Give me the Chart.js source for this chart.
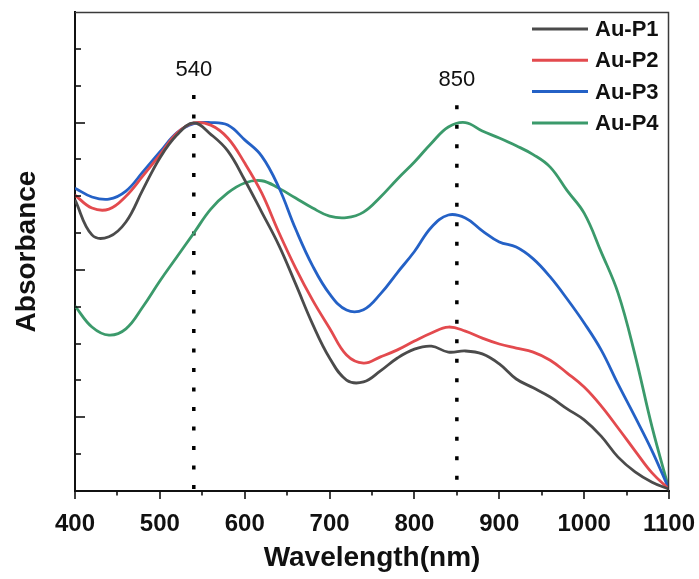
<!DOCTYPE html>
<html>
<head>
<meta charset="utf-8">
<script src="https://cdn.jsdelivr.net/npm/chart.js@4.4.1/dist/chart.umd.min.js"></script>
<style>
  html, body { margin: 0; padding: 0; background: #ffffff; }
  #wrap { width: 699px; height: 579px; }
</style>
</head>
<body>
<div id="wrap"><canvas id="c"></canvas></div>
<script>
// Normalized UV-Vis-NIR absorbance spectra, sampled every 20 nm
const wavelengths = [400, 420, 440, 460, 480, 500, 520, 540, 560, 580,
                     600, 620, 640, 660, 680, 700, 720, 740, 760, 780,
                     800, 820, 840, 860, 880, 900, 920, 940, 960, 980,
                     1000, 1020, 1040, 1060, 1080, 1100];

const auP1 = [0.790, 0.695, 0.690, 0.730, 0.818, 0.904, 0.966, 0.999, 0.968, 0.923,
              0.844, 0.757, 0.668, 0.562, 0.453, 0.361, 0.301, 0.296, 0.326, 0.361,
              0.385, 0.393, 0.377, 0.380, 0.372, 0.345, 0.304, 0.280, 0.255, 0.223,
              0.193, 0.149, 0.092, 0.052, 0.024, 0.005];

const auP2 = [0.803, 0.768, 0.765, 0.800, 0.855, 0.912, 0.971, 0.999, 0.993, 0.958,
              0.890, 0.809, 0.703, 0.605, 0.518, 0.442, 0.369, 0.347, 0.364, 0.383,
              0.407, 0.429, 0.445, 0.434, 0.415, 0.399, 0.388, 0.377, 0.355, 0.320,
              0.282, 0.231, 0.171, 0.109, 0.049, 0.005];

const auP3 = [0.822, 0.798, 0.792, 0.814, 0.866, 0.920, 0.972, 0.997, 1.000, 0.993,
              0.953, 0.909, 0.825, 0.711, 0.611, 0.535, 0.491, 0.492, 0.535, 0.593,
              0.650, 0.716, 0.749, 0.741, 0.706, 0.676, 0.662, 0.630, 0.581, 0.521,
              0.456, 0.383, 0.290, 0.201, 0.109, 0.005];

const auP4 = [0.502, 0.445, 0.423, 0.440, 0.500, 0.570, 0.635, 0.700, 0.765, 0.809,
              0.836, 0.842, 0.822, 0.795, 0.768, 0.746, 0.742, 0.757, 0.798, 0.847,
              0.893, 0.944, 0.988, 1.000, 0.977, 0.958, 0.937, 0.913, 0.879, 0.815,
              0.754, 0.649, 0.537, 0.369, 0.174, 0.005];

const seriesNames = ['Au-P1', 'Au-P2', 'Au-P3', 'Au-P4'];
const seriesValues = [auP1, auP2, auP3, auP4];
const seriesColors = ['#4b4b4b', '#e34a4e', '#2461c6', '#3b9a6b'];

// Dotted markers at the plasmon band maxima
const peakWavelengths = [540, 850];
const peakLabels = ['540', '850'];
const peakLineTops = [1.075, 1.047];

// Axis tick values
const xMajorTicks = [400, 500, 600, 700, 800, 900, 1000, 1100];
const xMinorTicks = [450, 550, 650, 750, 850, 950, 1050];
const yMajorTicks = [0.2, 0.6, 1.0];
const yMinorTicks = [0.1, 0.3, 0.4, 0.5, 0.7, 0.8, 0.9, 1.1, 1.2];

const FONT = '"Liberation Sans", Arial, Helvetica, sans-serif';

const spectra = seriesNames.map((name, i) => ({
  label: name,
  data: wavelengths.map((w, k) => ({ x: w, y: seriesValues[i][k] })),
  borderColor: seriesColors[i],
  backgroundColor: seriesColors[i],
  borderWidth: 2.8,
  pointRadius: 0,
  tension: 0.4,
  fill: false,
  isSpectrum: true
}));

const markers = peakWavelengths.map((w, i) => ({
  label: peakLabels[i],
  data: [{ x: w, y: peakLineTops[i] }, { x: w, y: 0 }],
  borderColor: '#000000',
  borderWidth: 3.5,
  borderDash: [4, 15.5],
  borderCapStyle: 'butt',
  pointRadius: 0,
  tension: 0,
  fill: false,
  isSpectrum: false
}));

// Frame, inward/outward tick marks, peak labels and the in-plot legend
const decorations = {
  id: 'decorations',
  afterDraw(chart) {
    const { ctx, chartArea: a, scales: { x, y } } = chart;
    ctx.save();

    ctx.strokeStyle = '#3a3a3a';
    ctx.lineWidth = 1.5;
    ctx.beginPath();
    ctx.moveTo(a.left, a.top + 0.5);
    ctx.lineTo(a.right - 0.5, a.top + 0.5);
    ctx.lineTo(a.right - 0.5, a.bottom);
    ctx.stroke();

    ctx.strokeStyle = '#111111';
    ctx.lineWidth = 1.6;
    const xTick = (v, len) => {
      const px = Math.round(x.getPixelForValue(v));
      ctx.beginPath();
      ctx.moveTo(px, a.bottom);
      ctx.lineTo(px, a.bottom + len);
      ctx.stroke();
    };
    xMajorTicks.forEach(v => xTick(v, 8));
    xMinorTicks.forEach(v => xTick(v, 4.5));

    const yTick = (v, len) => {
      const py = Math.round(y.getPixelForValue(v));
      ctx.beginPath();
      ctx.moveTo(a.left, py);
      ctx.lineTo(a.left + len, py);
      ctx.stroke();
    };
    yMajorTicks.forEach(v => yTick(v, 10));
    yMinorTicks.forEach(v => yTick(v, 6));

    ctx.fillStyle = '#111111';
    ctx.font = '22px ' + FONT;
    ctx.textAlign = 'center';
    ctx.textBaseline = 'middle';
    peakWavelengths.forEach((w, i) => {
      ctx.fillText(peakLabels[i], x.getPixelForValue(w), y.getPixelForValue(peakLineTops[i]) - 25);
    });

    const rowTop = a.top + 17;
    const rowStep = 31.3;
    ctx.font = 'bold 22px ' + FONT;
    ctx.textAlign = 'left';
    chart.data.datasets.filter(d => d.isSpectrum).forEach((d, i) => {
      const ry = rowTop + i * rowStep;
      ctx.strokeStyle = d.borderColor;
      ctx.lineWidth = 3;
      ctx.beginPath();
      ctx.moveTo(a.right - 137, ry);
      ctx.lineTo(a.right - 81, ry);
      ctx.stroke();
      ctx.fillStyle = '#111111';
      ctx.fillText(d.label, a.right - 74, ry + 1);
    });

    ctx.restore();
  }
};

new Chart(document.getElementById('c'), {
  type: 'line',
  data: { datasets: [...spectra, ...markers] },
  options: {
    responsive: true,
    maintainAspectRatio: false,
    animation: false,
    devicePixelRatio: 1,
    layout: { padding: { left: 0, top: 12, right: 30, bottom: 0 } },
    plugins: { legend: { display: false }, tooltip: { enabled: false } },
    scales: {
      x: {
        type: 'linear',
        min: 400,
        max: 1100,
        afterBuildTicks: s => { s.ticks = xMajorTicks.map(v => ({ value: v })); },
        ticks: {
          padding: 11,
          maxRotation: 0,
          autoSkip: false,
          color: '#111111',
          font: { family: FONT, size: 24, weight: 'bold' },
          callback: v => String(v)
        },
        grid: { display: false },
        border: { display: true, color: '#111111', width: 2 },
        title: {
          display: true,
          text: 'Wavelength(nm)',
          color: '#111111',
          font: { family: FONT, size: 28, weight: 'bold' },
          padding: { top: 0, bottom: 4 }
        },
        afterFit: s => {
          s.height = 88;
          s.paddingLeft = 0;
          s.paddingRight = 0;
        }
      },
      y: {
        min: 0,
        max: 1.3,
        ticks: { display: false },
        grid: { display: false },
        border: { display: true, color: '#111111', width: 2 },
        title: {
          display: true,
          text: 'Absorbance',
          color: '#111111',
          font: { family: FONT, size: 28, weight: 'bold' },
          padding: { top: 10, bottom: 0 }
        },
        afterFit: s => { s.width = 75; }
      }
    }
  },
  plugins: [decorations]
});
</script>
</body>
</html>
